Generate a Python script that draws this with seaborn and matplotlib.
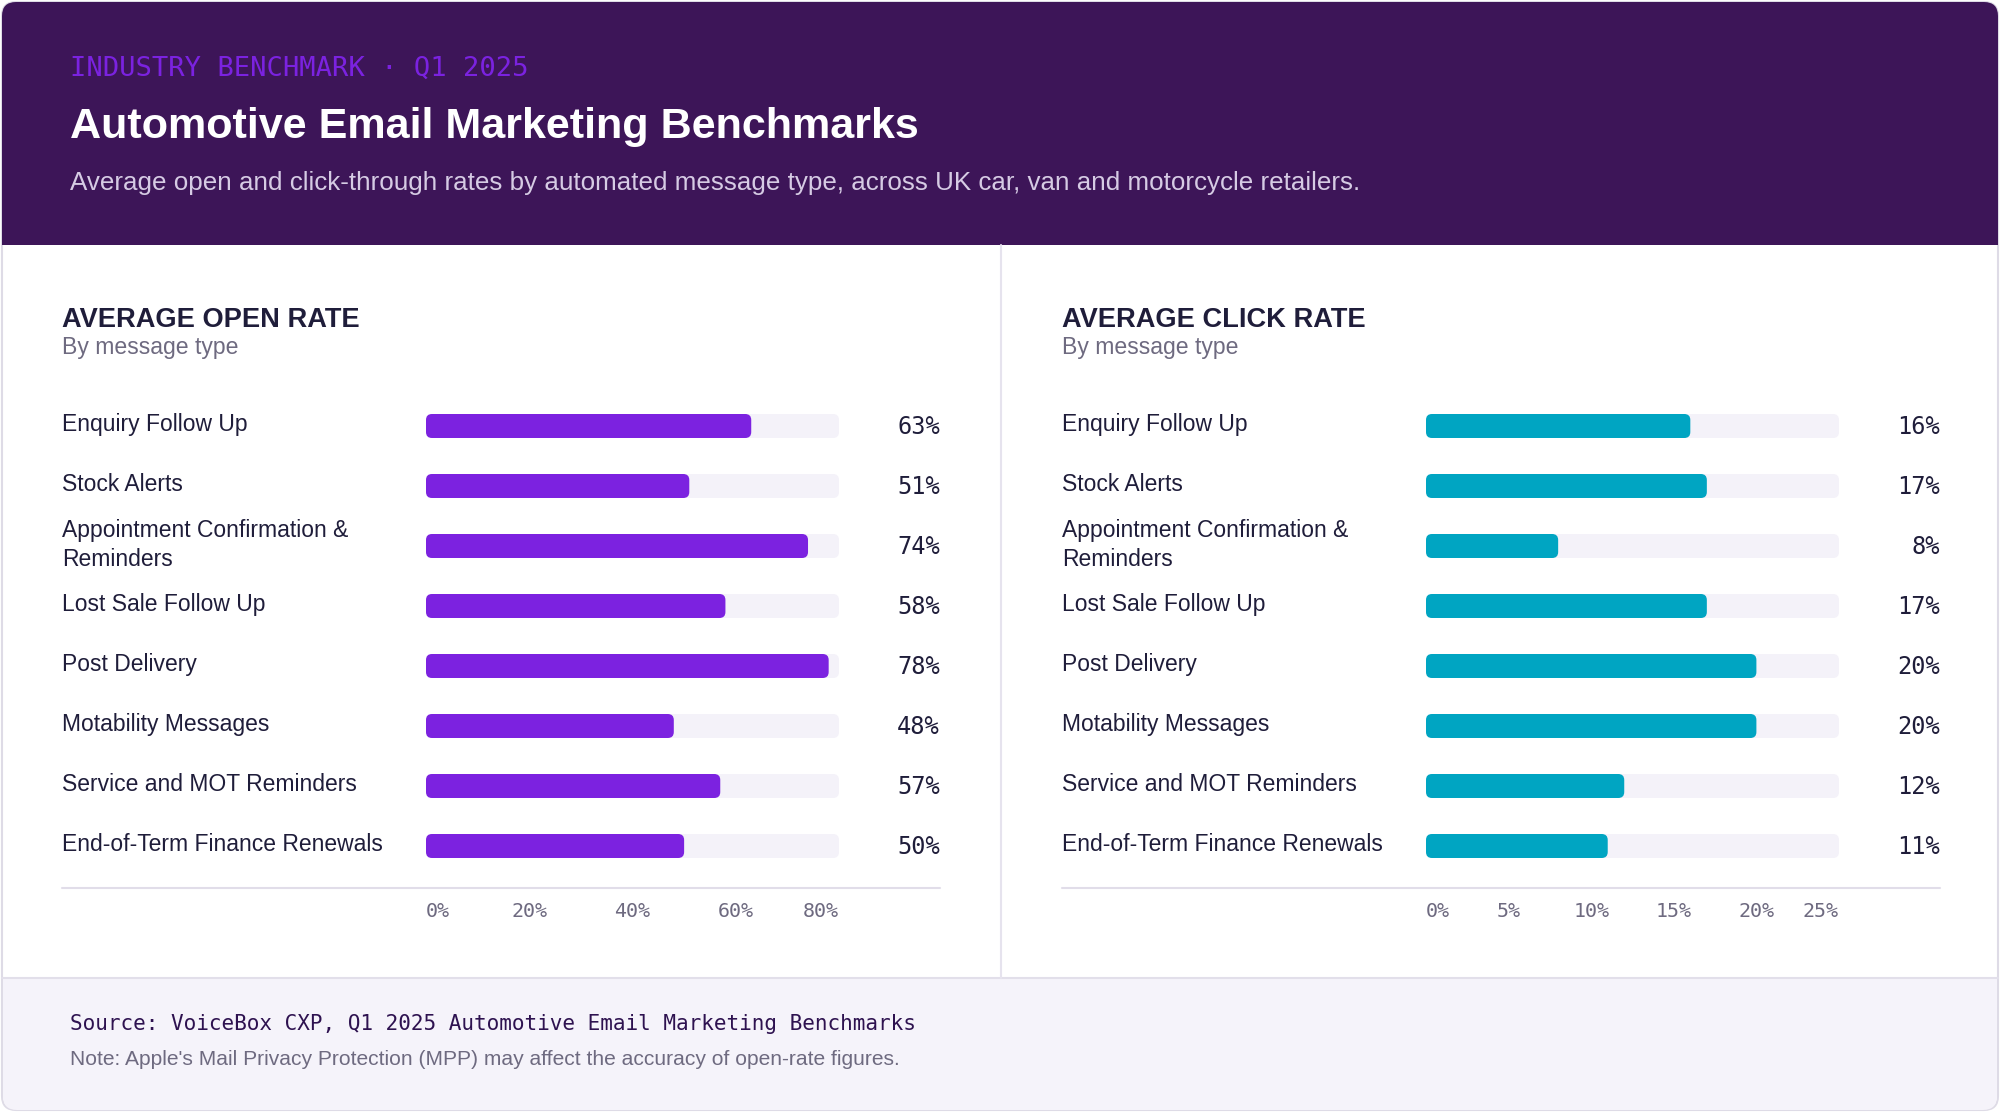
import matplotlib
matplotlib.use("Agg")
import matplotlib.pyplot as plt
from matplotlib.patches import FancyBboxPatch, Rectangle
import seaborn as sns
import pandas as pd

# chart data
message_types = [
    "Enquiry Follow Up",
    "Stock Alerts",
    "Appointment Confirmation &\nReminders",
    "Lost Sale Follow Up",
    "Post Delivery",
    "Motability Messages",
    "Service and MOT Reminders",
    "End-of-Term Finance Renewals",
]
open_rate = [63, 51, 74, 58, 78, 48, 57, 50]
click_rate = [16, 17, 8, 17, 20, 20, 12, 11]
open_ticks = [0, 20, 40, 60, 80]
click_ticks = [0, 5, 10, 15, 20, 25]

# colours
HEADER = "#3d1558"
KICKER = "#7b22e0"
SUBHEAD = "#d6cbe4"
INK = "#1f1d3a"
MUTED = "#6e6a80"
TRACK = "#f4f2f9"
PURPLE = "#7c22e0"
TEAL = "#00a5c2"
RULE = "#e1dde9"
FOOTER = "#f5f3fa"
SOURCE = "#2e1250"

W, H = 2000, 1114
MONO = "DejaVu Sans Mono"

sns.set_style("white")
plt.rcParams["font.family"] = ["Liberation Sans", "DejaVu Sans"]

fig = plt.figure(figsize=(W / 100, H / 100), dpi=100, facecolor="white")

# background layer in pixel coordinates
bg = fig.add_axes([0, 0, 1, 1], zorder=0)
bg.set_xlim(0, W)
bg.set_ylim(H, 0)
bg.axis("off")

bg.add_patch(FancyBboxPatch((2, 2), W - 4, H - 6, boxstyle="round,pad=0,rounding_size=14",
                            facecolor="white", edgecolor="#dedbe6", lw=1.5))
# header band
bg.add_patch(FancyBboxPatch((2, 2), W - 4, 243, boxstyle="round,pad=0,rounding_size=14",
                            facecolor=HEADER, edgecolor="none"))
bg.add_patch(Rectangle((2, 60), W - 4, 185, facecolor=HEADER, edgecolor="none"))
# footer band
bg.add_patch(FancyBboxPatch((3, 978), W - 6, H - 6 - 976, boxstyle="round,pad=0,rounding_size=14",
                            facecolor=FOOTER, edgecolor="none"))
bg.add_patch(Rectangle((3, 978), W - 6, 60, facecolor=FOOTER, edgecolor="none"))
bg.plot([2, W - 2], [978, 978], color="#e2dfea", lw=1.5)
# divider between panels
bg.plot([1001, 1001], [245, 978], color="#e6e3ee", lw=1.5)

bg.text(70, 76, "INDUSTRY BENCHMARK · Q1 2025", family=MONO, fontsize=19.5,
        color=KICKER, va="baseline")
bg.text(70, 138, "Automotive Email Marketing Benchmarks", fontsize=31.1, fontweight="bold",
        color="white", va="baseline")
bg.text(70, 190, "Average open and click-through rates by automated message type, across UK car, "
        "van and motorcycle retailers.", fontsize=18.7, color=SUBHEAD, va="baseline")

bg.text(70, 1030, "Source: VoiceBox CXP, Q1 2025 Automotive Email Marketing Benchmarks",
        family=MONO, fontsize=15.1, color=SOURCE, va="baseline")
bg.text(70, 1065, "Note: Apple's Mail Privacy Protection (MPP) may affect the accuracy of "
        "open-rate figures.", fontsize=15.1, color=MUTED, va="baseline")


def panel(x0, title, values, ticks, color):
    bar_left, bar_right = x0 + 364, x0 + 777
    top, bottom = 396, 876
    ax = fig.add_axes([bar_left / W, 1 - bottom / H, (bar_right - bar_left) / W, (bottom - top) / H],
                      zorder=2)
    ax.set_facecolor("none")

    df = pd.DataFrame({"type": message_types, "value": values, "track": ticks[-1]})
    sns.barplot(data=df, x="track", y="type", color=TRACK, width=0.4, saturation=1,
                errorbar=None, ax=ax)
    sns.barplot(data=df, x="value", y="type", color=color, width=0.4, saturation=1,
                errorbar=None, ax=ax)
    ax.set_xlim(0, ticks[-1])
    ax.set_ylim(len(message_types) - 0.5, -0.5)

    # swap the square bars for rounded ones
    xpx = ax.transData.transform((1, 0))[0] - ax.transData.transform((0, 0))[0]
    ypx = abs(ax.transData.transform((0, 1))[1] - ax.transData.transform((0, 0))[1])
    for p in list(ax.patches):
        x, y = p.get_xy()
        w, h = p.get_width(), p.get_height()
        fc = p.get_facecolor()
        p.remove()
        ax.add_patch(FancyBboxPatch((x, y), w, h,
                                    boxstyle=f"round,pad=0,rounding_size={6 / xpx}",
                                    mutation_aspect=xpx / ypx, facecolor=fc, edgecolor="none"))

    for s in ax.spines.values():
        s.set_visible(False)
    ax.set_xlabel("")
    ax.set_ylabel("")
    ax.set_yticks([])

    # category labels sit at the left edge of the panel
    for i, name in enumerate(message_types):
        dy = 5 if "\n" in name else 3
        ax.annotate(name, xy=(0, i), xycoords=("axes fraction", "data"),
                    xytext=(-364 * 0.72, dy), textcoords="offset points", ha="left",
                    va="center_baseline", fontsize=16.5, color=INK, linespacing=1.38)

    ax.set_xticks(ticks)
    ax.set_xticklabels([f"{t}%" for t in ticks])
    ax.tick_params(axis="x", length=0, pad=19, labelsize=14.4, labelcolor=MUTED)
    xl = ax.get_xticklabels()
    for t in xl:
        t.set_fontfamily(MONO)
    xl[0].set_ha("left")
    xl[-1].set_ha("right")

    for i, v in enumerate(values):
        ax.annotate(f"{v}%", xy=(1, i), xycoords=("axes fraction", "data"),
                    xytext=(101 * 0.72, -1), textcoords="offset points", ha="right",
                    va="center", fontsize=17, family=MONO, color=INK)

    bg.text(x0, 327, title, fontsize=19.6, fontweight="bold", color=INK, va="baseline")
    bg.text(x0, 354, "By message type", fontsize=16.6, color=MUTED, va="baseline")
    bg.plot([x0, x0 + 878], [888, 888], color=RULE, lw=1.5)


panel(62, "AVERAGE OPEN RATE", open_rate, open_ticks, PURPLE)
panel(1062, "AVERAGE CLICK RATE", click_rate, click_ticks, TEAL)

fig.savefig("out.png", dpi=100, facecolor=fig.get_facecolor())
